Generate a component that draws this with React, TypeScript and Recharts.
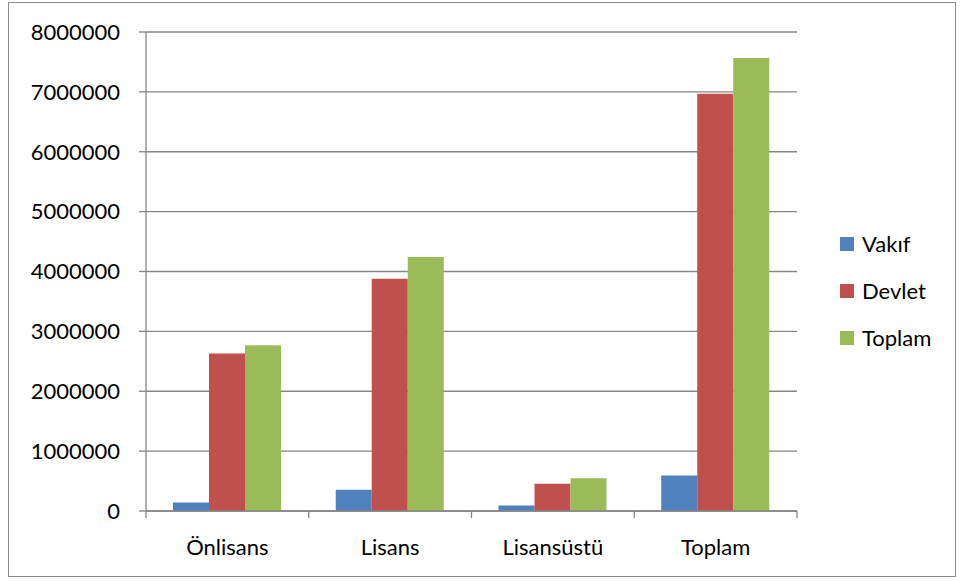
import React from 'react';
import { BarChart, Bar, XAxis, YAxis, CartesianGrid, Legend } from 'recharts';

const categories = ['Önlisans', 'Lisans', 'Lisansüstü', 'Toplam'];
const vakif = [140000, 355000, 90000, 593000];
const devlet = [2630000, 3880000, 455000, 6970000];
const toplam = [2770000, 4244000, 548000, 7566000];
const yTicks = [0, 1000000, 2000000, 3000000, 4000000, 5000000, 6000000, 7000000, 8000000];
const boundaryTicks = [0, 1, 2, 3, 4];
const seriesNames = ['Vakıf', 'Devlet', 'Toplam'];
const seriesColors = ['#4F81BD', '#C0504D', '#9BBB59'];

const data = categories.map((c, i) => ({
  name: c,
  idx: i + 0.5,
  Vakıf: vakif[i],
  Devlet: devlet[i],
  Toplam: toplam[i],
}));

const FONT = 'Lato, "Open Sans", sans-serif';
const GRAY = '#868686';

const LegendContent = (props: any) => {
  const payload = [...(props.payload || [])].sort(
    (a: any, b: any) => seriesNames.indexOf(a.value) - seriesNames.indexOf(b.value)
  );
  return (
    <div style={{ fontFamily: FONT, fontSize: 22, color: '#000' }}>
      {payload.map((p: any) => (
        <div key={p.value} style={{ display: 'flex', alignItems: 'center', height: 47 }}>
          <span style={{ display: 'inline-block', width: 14, height: 14, background: p.color, marginRight: 8 }} />
          <span>{p.value}</span>
        </div>
      ))}
    </div>
  );
};

export default function App() {
  return (
    <div style={{ position: 'fixed', left: 0, top: 0, width: 965, height: 581, background: '#fff' }}>
      <div
        style={{
          position: 'absolute',
          left: 8,
          top: 2,
          width: 948,
          height: 575,
          border: '1px solid #8c8c8c',
          boxSizing: 'border-box',
        }}
      />
      <div style={{ position: 'absolute', left: 0, top: 0 }}>
        <BarChart
          width={965}
          height={581}
          data={data}
          margin={{ top: 32, right: 43, left: 8, bottom: 30 }}
          barGap={0}
          barSize={36}
        >
          <CartesianGrid horizontal vertical={false} stroke={GRAY} strokeWidth={1.3} />
          <XAxis
            xAxisId="a"
            type="number"
            dataKey="idx"
            domain={[0, 4]}
            ticks={boundaryTicks}
            tickFormatter={() => ''}
            height={1}
            axisLine={{ stroke: GRAY, strokeWidth: 1.3 }}
            tickLine={{ stroke: GRAY, strokeWidth: 1.3 }}
            tickSize={7}
            allowDataOverflow
            interval={0}
          />
          <XAxis
            xAxisId="b"
            dataKey="name"
            height={39}
            axisLine={false}
            tickLine={false}
            tickSize={7}
            tickMargin={20}
            tick={{ fill: '#000', fontSize: 22, fontFamily: FONT }}
            interval={0}
          />
          <YAxis
            domain={[0, 8000000]}
            ticks={yTicks}
            width={138}
            axisLine={{ stroke: GRAY, strokeWidth: 1.3 }}
            tickLine={{ stroke: GRAY, strokeWidth: 1.3 }}
            tickSize={7}
            tickMargin={19}
            tick={{ fill: '#000', fontSize: 22, fontFamily: FONT }}
            interval={0}
          />
          <Legend
            layout="horizontal"
            verticalAlign="middle"
            align="right"
            content={<LegendContent />}
            wrapperStyle={{ left: 840, top: 220, width: 125 }}
          />
          {seriesNames.map((s, i) => (
            <Bar
              key={s}
              xAxisId="b"
              dataKey={s}
              name={s}
              fill={seriesColors[i]}
              isAnimationActive={false}
            />
          ))}
        </BarChart>
      </div>
    </div>
  );
}
